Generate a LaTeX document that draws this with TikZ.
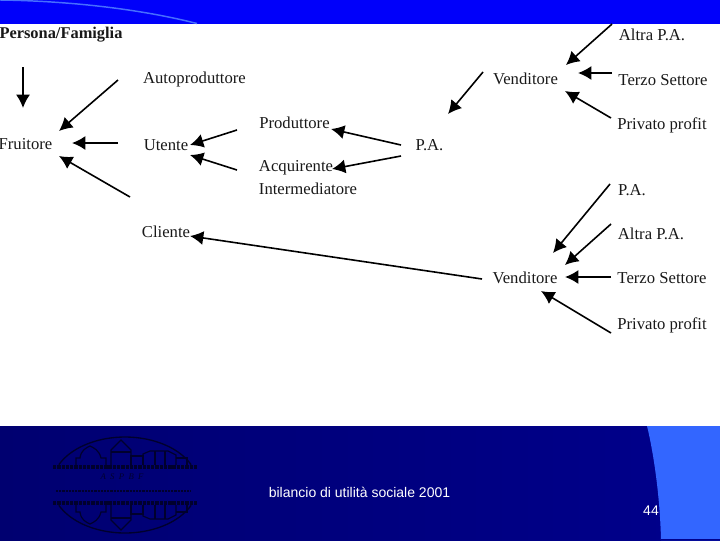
\documentclass[tikz,border=0pt]{standalone}
\usepackage{fontspec}
\setmainfont{Liberation Serif}
\newfontfamily\footfont{Liberation Sans}
\usetikzlibrary{arrows.meta}

\definecolor{bandblue}{RGB}{0,0,250}
\definecolor{curveblue}{RGB}{70,110,255}
\definecolor{navyleft}{RGB}{0,0,112}
\definecolor{navyright}{RGB}{0,0,140}
\definecolor{sideblue}{RGB}{51,102,255}
\definecolor{logodark}{RGB}{0,0,45}

\tikzset{
    voce/.style={inner sep=0pt, text height=9.5pt, text depth=1.5pt, font=\fontsize{12.5}{14}\selectfont, text=black!90},
    freccia/.style={->, line width=1.2pt, black},
    piede/.style={inner sep=0pt, text=white, font=\footfont\fontsize{10.5}{12}\selectfont},
    logotratto/.style={logodark, line width=0.9pt}
}

% meta' del logo, la seconda viene specchiata
\newcommand{\mezzologo}{
    \draw[logotratto, line width=1pt, smooth, domain=25:155, samples=40]
        plot ({125+73*cos(\x)}, {485-48*sin(\x)});
    \draw[logodark, line width=3.6pt, dash pattern=on 2.5pt off 0.7pt] (53,467) -- (197,467);
    % cupola
    \draw[logotratto] (76,465) -- (76,458) -- (80,458) .. controls (81,450) and (86,448) .. (90,446)
        .. controls (94,448) and (99,450) .. (101,458) -- (106,458) -- (106,465);
    % torre
    \draw[logotratto] (111,465) -- (111,450) -- (121,440) -- (131,450) -- (131,465);
    \draw[logotratto] (111,452) -- (131,452);
    % case
    \draw[logotratto] (131,465) -- (131,456) -- (143,456) -- (143,465);
    \draw[logotratto] (143,465) -- (143,454) -- (150,451) -- (168,451) -- (176,455) -- (176,465);
    \draw[logotratto] (155,451) -- (155,465) (165,451) -- (165,465);
    \draw[logotratto] (176,458) -- (187,458) -- (187,465);
}

\begin{document}
\begin{tikzpicture}[x=0.75pt, y=-0.75pt, >={Latex[length=10pt,width=10.5pt]}]

    \useasboundingbox (0,0) rectangle (720,540);

    % 1. Sfondo
    \fill[white] (0,0) rectangle (720,540);
    \fill[bandblue] (0,0) rectangle (720,23.5);
    \draw[curveblue, line width=1.1pt] (0,0) .. controls (70,1) and (140,9) .. (197,23.5);
    \shade[left color=navyleft, right color=navyright, shading angle=90] (0,426) rectangle (720,540);
    \fill[sideblue] (647,426) .. controls (653,450) and (660,495) .. (661,540) -- (720,540) -- (720,426) -- cycle;
    \draw[navyright, line width=0.7pt] (661,539.5) -- (720,539.5);

    % 2. Logo
    \mezzologo
    \begin{scope}[shift={(0,970)}, yscale=-1]
        \mezzologo
    \end{scope}
    \node[inner sep=0pt, text=logodark, font=\itshape\fontsize{6.5}{7}\selectfont] (sigla) at (122,477) {A\ \ S\ \ P\ \ B\ \ F};
    \draw[logodark, line width=1.8pt, dash pattern=on 1.6pt off 0.8pt] (56,491) -- (191,491);

    % 3. Testi del piede
    \node[piede] (titolo) at (359.5,492) {bilancio di utilità sociale 2001};
    \node[piede] (pagina) at (651,510.5) {44};

    % 4. Voci a sinistra
    \node[voce, font=\bfseries\fontsize{12.3}{14}\selectfont] (persona) at (61,33) {Persona/Famiglia};
    \node[voce] (fruitore) at (25.5,144) {Fruitore};
    \node[voce] (autoproduttore) at (194.5,78) {Autoproduttore};
    \node[voce] (utente) at (166,145) {Utente};
    \node[voce] (cliente) at (166,232) {Cliente};
    \node[voce] (produttore) at (294.5,123) {Produttore};
    \node[voce] (acquirente) at (296,166) {Acquirente};
    \node[voce] (intermediatore) at (308,189) {Intermediatore};
    \node[voce] (pa) at (429.5,145) {P.A.};

    % 5. Voci a destra
    \node[voce] (venditoreA) at (525.5,79) {Venditore};
    \node[voce] (altraA) at (652,35) {Altra P.A.};
    \node[voce] (terzoA) at (663,80) {Terzo Settore};
    \node[voce] (privatoA) at (662,124) {Privato profit};
    \node[voce] (venditoreB) at (525,278) {Venditore};
    \node[voce] (paB) at (632,190) {P.A.};
    \node[voce] (altraB) at (651,234) {Altra P.A.};
    \node[voce] (terzoB) at (662,278) {Terzo Settore};
    \node[voce] (privatoB) at (662,324) {Privato profit};

    % 6. Frecce
    \draw[freccia] ([shift={(-38,34)}]persona.center) -- ([shift={(-2.5,-36)}]fruitore.center);
    \draw[freccia] ([shift={(-76.5,2)}]autoproduttore.center) -- ([shift={(33.5,-13)}]fruitore.center);
    \draw[freccia] ([shift={(-48,-2)}]utente.center) -- ([shift={(46.5,-1)}]fruitore.center);
    \draw[freccia] ([shift={(-36,-35)}]cliente.center) -- ([shift={(33.5,12)}]fruitore.center);
    \draw[freccia] ([shift={(-57.5,7)}]produttore.center) -- ([shift={(24,0)}]utente.center);
    \draw[freccia] ([shift={(-59,4)}]acquirente.center) -- ([shift={(24,10)}]utente.center);
    \draw[freccia] ([shift={(-28.5,0)}]pa.center) -- ([shift={(36.5,6)}]produttore.center);
    \draw[freccia] ([shift={(-28.5,11)}]pa.center) -- ([shift={(36,3)}]acquirente.center);
    \draw[freccia] ([shift={(-42.5,-7)}]venditoreA.center) -- ([shift={(18.5,-31)}]pa.center);
    \draw[freccia] ([shift={(-40,-11)}]altraA.center) -- ([shift={(40.5,-14)}]venditoreA.center);
    \draw[freccia] ([shift={(-51,-7)}]terzoA.center) -- ([shift={(52.5,-6)}]venditoreA.center);
    \draw[freccia] ([shift={(-51,-6)}]privatoA.center) -- ([shift={(39.5,12)}]venditoreA.center);
    \draw[freccia] ([shift={(-22,-6)}]paB.center) -- ([shift={(28,-25)}]venditoreB.center);
    \draw[freccia] ([shift={(-40,-10)}]altraB.center) -- ([shift={(40,-13)}]venditoreB.center);
    \draw[freccia] ([shift={(-51,-1)}]terzoB.center) -- ([shift={(40,-1)}]venditoreB.center);
    \draw[freccia] ([shift={(-51,9)}]privatoB.center) -- ([shift={(16,13)}]venditoreB.center);
    \draw[freccia] ([shift={(-43,1)}]venditoreB.center) -- ([shift={(24,4)}]cliente.center);

\end{tikzpicture}
\end{document}
